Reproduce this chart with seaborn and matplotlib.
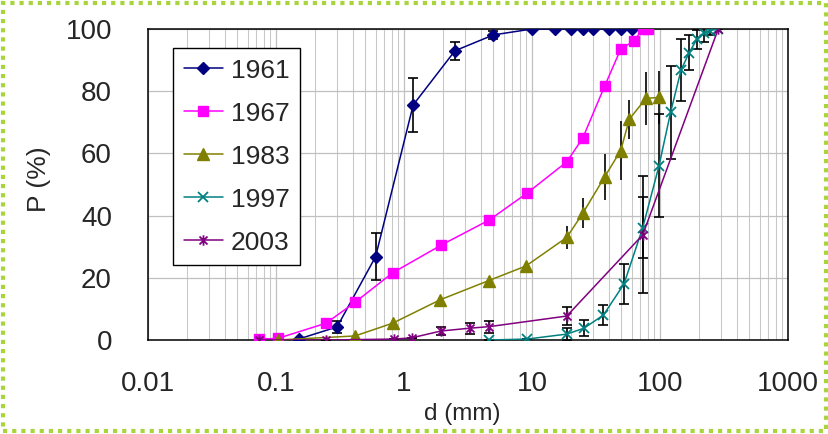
import numpy as np
import pandas as pd
import matplotlib
matplotlib.use("Agg")
import matplotlib.pyplot as plt
import matplotlib.path as mpath
from matplotlib.patches import Rectangle
from matplotlib.ticker import LogLocator, FixedLocator, NullFormatter
import seaborn as sns

# ---------------- data ----------------
d_1961 = [0.15, 0.3, 0.6, 1.18, 2.5, 5, 10, 15, 20, 25, 30, 40, 50, 60]
p_1961 = [0.3, 4.2, 26.8, 75.6, 93.0, 98.1, 100, 100, 100, 100, 100, 100, 100, 100]
e_1961 = [0, 2.0, 7.5, 8.6, 2.9, 1.2, 0, 0, 0, 0, 0, 0, 0, 0]

d_1967 = [0.073, 0.103, 0.246, 0.414, 0.815, 1.95, 4.64, 9.14, 18.7, 24.9, 37, 49.3, 62.7, 73.3, 81]
p_1967 = [0.3, 0.5, 5.4, 12.1, 21.6, 30.5, 38.6, 47.2, 57.3, 64.9, 81.7, 93.5, 96.2, 100, 100]

d_1983 = [0.103, 0.414, 0.815, 1.91, 4.59, 8.97, 18.7, 24.9, 37, 49.3, 57.6, 77.7, 98.2]
p_1983 = [0.0, 1.3, 5.4, 12.9, 19.1, 23.8, 33.0, 40.7, 52.5, 60.9, 71.0, 77.7, 78.0]
e_1983 = [0, 0, 0, 0, 0, 0, 3.7, 4.8, 7.4, 9.4, 6.3, 8.5, 8.5]

d_1997 = [4.64, 9.14, 18.7, 25.5, 36.1, 52.3, 73.3, 98.2, 121, 146, 169, 194, 221, 246, 285]
p_1997 = [0.0, 0.3, 1.9, 3.8, 8.0, 18.0, 36.1, 56.0, 73.2, 86.8, 92.4, 96.7, 98.6, 99.5, 100]
e_1997 = [0, 0, 2.0, 2.5, 3.2, 6.3, 9.8, 16.6, 15.0, 9.9, 5.6, 3.1, 2.8, 1.5, 0]

d_2003 = [0.073, 0.246, 0.84, 1.15, 1.95, 3.28, 4.64, 18.7, 73.3, 285]
p_2003 = [0.0, 0.0, 0.3, 0.7, 2.9, 3.8, 4.3, 7.7, 33.8, 100]
e_2003 = [0, 0, 0, 0, 1.3, 1.8, 1.9, 2.9, 18.8, 0]

years = ["1961", "1967", "1983", "1997", "2003"]
x_ticks = [0.01, 0.1, 1, 10, 100, 1000]
x_ticklabels = ["0.01", "0.1", "1", "10", "100", "1000"]
y_ticks = [0, 20, 40, 60, 80, 100]

# ---------------- style ----------------
sns.set_style("white")
plt.rcParams["font.family"] = ["Liberation Sans", "DejaVu Sans"]

W, H = 829, 434
fig = plt.figure(figsize=(W / 100, H / 100), dpi=100)
L, R, T, B = 148, 788, 29, 340
ax = fig.add_axes([L / W, 1 - B / H, (R - L) / W, (B - T) / H])

# asterisk marker (x plus vertical bar)
ast = mpath.Path(
    [(-1, -1), (1, 1), (-1, 1), (1, -1), (0, -1.3), (0, 1.3)],
    [mpath.Path.MOVETO, mpath.Path.LINETO, mpath.Path.MOVETO, mpath.Path.LINETO,
     mpath.Path.MOVETO, mpath.Path.LINETO],
)

series = [
    (d_1961, p_1961, e_1961, "#000080", "D", 6.5, 1.0, 3.5),
    (d_1967, p_1967, None, "#FF00FF", "s", 7.5, 1.0, 3.5),
    (d_1983, p_1983, e_1983, "#808000", "^", 8.5, 1.0, 0),
    (d_1997, p_1997, e_1997, "#008080", "x", 7.5, 1.3, 3.5),
    (d_2003, p_2003, e_2003, "#800080", ast, 7.5, 1.3, 3.5),
]

for (dx, py, ey, col, mk, ms, mew, cap), yr in zip(series, years):
    df = pd.DataFrame({"d": dx, "p": py})
    sns.lineplot(data=df, x="d", y="p", ax=ax, color=col, marker=mk,
                 markersize=ms, markeredgecolor=col, markerfacecolor=col,
                 markeredgewidth=mew, linewidth=1.1, label=yr, zorder=3,
                 sort=False, estimator=None)
    if ey is not None:
        ax.errorbar(dx, py, yerr=ey, fmt="none", ecolor="black",
                    elinewidth=1.2, capsize=cap, capthick=1.2, zorder=2.5)

ax.set_xscale("log")
ax.set_xlim(0.01, 1000)
ax.set_ylim(0, 100)
ax.xaxis.set_major_locator(FixedLocator(x_ticks))
ax.set_xticklabels(x_ticklabels)
ax.xaxis.set_minor_locator(LogLocator(base=10, subs=np.arange(2, 10)))
ax.xaxis.set_minor_formatter(NullFormatter())
ax.set_yticks(y_ticks)

ax.grid(True, which="major", axis="both", color="#c0c0c0", linewidth=0.9)
ax.grid(True, which="minor", axis="x", color="#c8c8c8", linewidth=0.75)
ax.set_axisbelow(True)

for s in ax.spines.values():
    s.set_color("black")
    s.set_linewidth(1.1)
    s.set_visible(True)

ax.tick_params(axis="x", which="major", direction="in", length=5, width=1,
               color="black", labelsize=20, pad=22)
ax.tick_params(axis="x", which="minor", length=0)
ax.tick_params(axis="y", which="major", length=0, labelsize=20, pad=26)

ax.set_xlabel("d (mm)", fontsize=17.5)
ax.set_ylabel("P (%)", fontsize=19)
ax.xaxis.label.set_va("center")
ax.xaxis.set_label_coords((462 - L) / (R - L), (B - 414) / (B - T))
ax.yaxis.label.set_va("center")
ax.yaxis.set_label_coords((39 - L) / (R - L), (B - 179) / (B - T))

leg = ax.legend(loc="upper left", bbox_to_anchor=((173 - L) / (R - L), (B - 48) / (B - T)),
                fontsize=19, frameon=True, fancybox=False, shadow=False,
                framealpha=1, edgecolor="black", borderpad=0.4,
                labelspacing=0.72, handlelength=1.5, handletextpad=0.3,
                borderaxespad=0)
leg.get_frame().set_linewidth(1.0)

# dotted chart-area border
fig.patches.append(Rectangle((3 / W, 3 / H), (W - 6) / W, (H - 6) / H,
                             transform=fig.transFigure, fill=False,
                             edgecolor="#a8d43c", linewidth=3,
                             linestyle=(0, (1, 1.2))))

fig.savefig("out.png", dpi=100)
